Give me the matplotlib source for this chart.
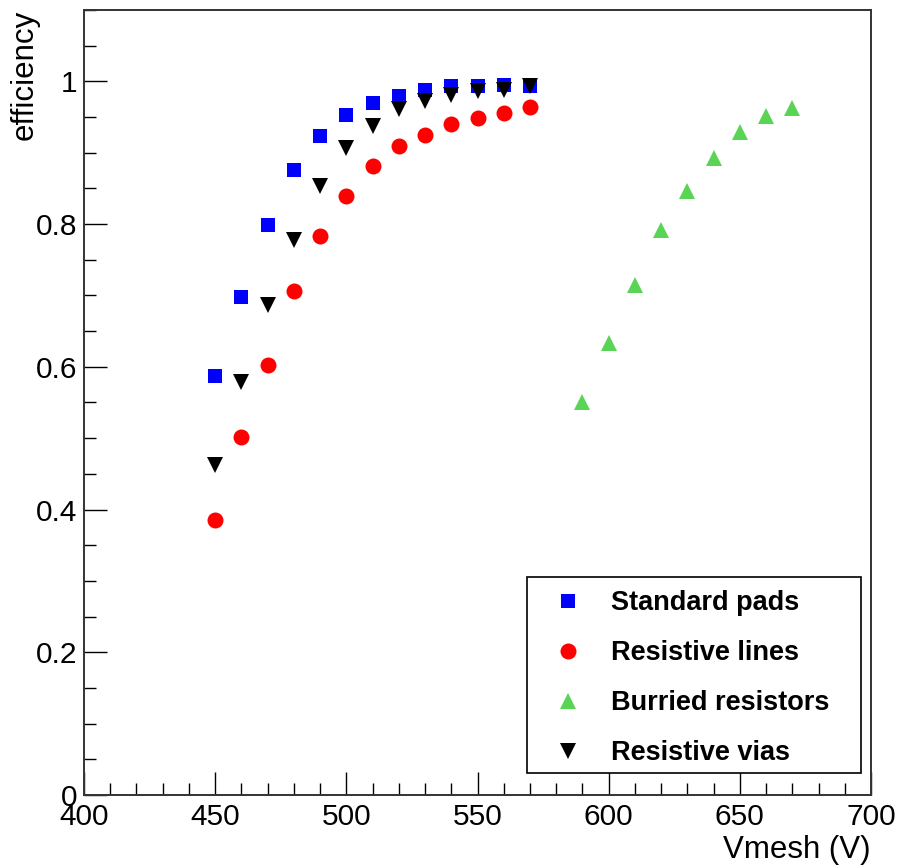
import matplotlib
matplotlib.use("Agg")
import matplotlib.pyplot as plt
from matplotlib.ticker import MultipleLocator, FuncFormatter
from matplotlib.patches import Rectangle

plt.rcParams['font.family'] = ['Liberation Sans', 'DejaVu Sans']

# ---- data ----
v_std = [450, 460, 470, 480, 490, 500, 510, 520, 530, 540, 550, 560, 570]
eff_std = [0.587, 0.698, 0.799, 0.876, 0.924, 0.953, 0.970, 0.980, 0.988, 0.993, 0.994, 0.995, 0.994]

v_lines = [450, 460, 470, 480, 490, 500, 510, 520, 530, 540, 550, 560, 570]
eff_lines = [0.385, 0.502, 0.603, 0.706, 0.784, 0.840, 0.882, 0.909, 0.925, 0.940, 0.949, 0.956, 0.964]

v_buried = [590, 600, 610, 620, 630, 640, 650, 660, 670]
eff_buried = [0.551, 0.633, 0.715, 0.792, 0.847, 0.893, 0.929, 0.951, 0.962]

v_vias = [450, 460, 470, 480, 490, 500, 510, 520, 530, 540, 550, 560, 570]
eff_vias = [0.462, 0.579, 0.687, 0.778, 0.853, 0.906, 0.937, 0.961, 0.973, 0.981, 0.986, 0.988, 0.993]

labels = ["Standard pads", "Resistive lines", "Burried resistors", "Resistive vias"]
x_label = "Vmesh (V)"
y_label = "efficiency"

# ---- figure ----
W, H = 898, 868
fig = plt.figure(figsize=(W / 100, H / 100), dpi=100)
L, R, T, B = 84, 871, 10, 795
ax = fig.add_axes([L / W, 1 - B / H, (R - L) / W, (B - T) / H])

ax.plot(v_std, eff_std, ls='none', marker='s', ms=9.4, mew=0, color='#0000ff', label=labels[0])
ax.plot(v_lines, eff_lines, ls='none', marker='o', ms=11.5, mew=0, color='#ff0000', label=labels[1])
ax.plot(v_buried, eff_buried, ls='none', marker='^', ms=11.0, mew=0, color='#59d454', label=labels[2])
ax.plot(v_vias, eff_vias, ls='none', marker='v', ms=12.0, mew=0, color='#000000', label=labels[3])

ax.set_xlim(400, 700)
ax.set_ylim(0, 1.1)

ax.xaxis.set_major_locator(MultipleLocator(50))
ax.xaxis.set_minor_locator(MultipleLocator(10))
ax.yaxis.set_major_locator(MultipleLocator(0.2))
ax.yaxis.set_minor_locator(MultipleLocator(0.05))

def yfmt(v, pos):
    s = f"{v:.1f}"
    if s.endswith(".0"):
        s = s[:-2]
    return s

ax.yaxis.set_major_formatter(FuncFormatter(yfmt))

ax.tick_params(which='both', direction='in', top=False, right=False, colors='black', width=1.0)
ax.tick_params(which='major', length=16.5, labelsize=21.5, pad=5)
ax.tick_params(axis='x', which='major', pad=6)
ax.tick_params(which='minor', length=8.6)
for sp in ax.spines.values():
    sp.set_linewidth(1.4)
    sp.set_color('#333333')

fig.text(25 / W, 1 - 10 / H, y_label, rotation=90, ha='center', va='top', fontsize=22.5)
fig.text(871 / W, 1 - 850 / H, x_label, ha='right', va='center', fontsize=22.5)

# legend box
fig.patches.append(Rectangle((527 / W, 1 - 773 / H), (861 - 527) / W, (773 - 577) / H,
                             transform=fig.transFigure, fill=True, facecolor='white',
                             edgecolor='black', linewidth=1.2, zorder=5))
leg = fig.legend(loc='upper left', bbox_to_anchor=(547.5 / W, 1 - 590.5 / H),
                 bbox_transform=fig.transFigure, frameon=False, borderpad=0,
                 borderaxespad=0, handlelength=1.5, handletextpad=0.85,
                 labelspacing=0.88, prop={'weight': 'bold', 'size': 19.5})
leg.set_zorder(6)

fig.savefig("out.png", dpi=100)
